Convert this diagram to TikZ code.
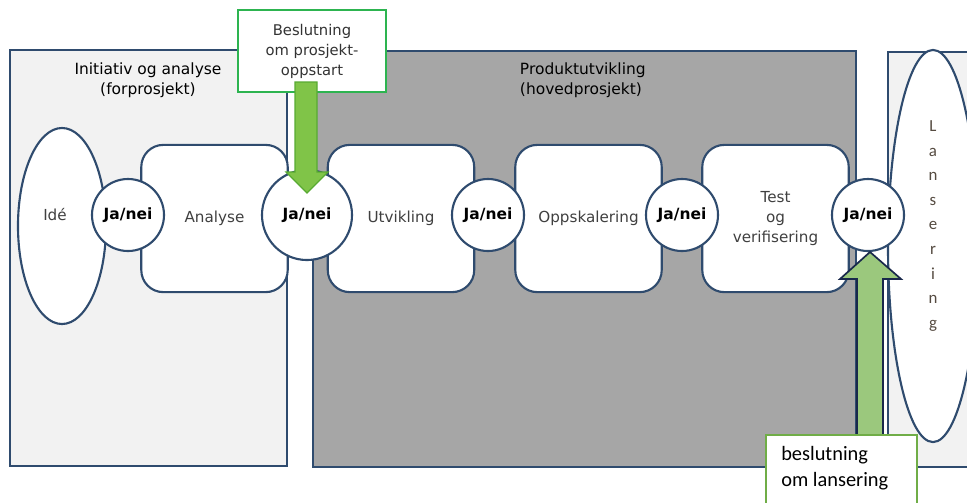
\documentclass[tikz,border=0pt]{standalone}
\usepackage{fontspec}
\setmainfont{DejaVu Sans}
\newfontfamily\boxfont{Carlito}
\usetikzlibrary{shapes.geometric}

\definecolor{rand}{RGB}{47,75,110}
\definecolor{lysgraa}{RGB}{242,242,242}
\definecolor{morkgraa}{RGB}{166,166,166}
\definecolor{knallgronn}{RGB}{45,180,80}
\definecolor{pilgronn}{RGB}{128,196,72}
\definecolor{pilkant}{RGB}{88,170,50}
\definecolor{blekgronn}{RGB}{155,200,125}
\definecolor{pilmork}{RGB}{25,40,75}
\definecolor{boksgronn}{RGB}{112,173,71}
\definecolor{bokstav}{RGB}{85,75,65}

\begin{document}
\begin{tikzpicture}[x=0.025cm,y=-0.025cm,
  fase/.style={draw=rand,line width=1.5pt,rounded corners=0.55cm,fill=white,
    minimum width=3.66cm,minimum height=3.68cm,align=center,
    text=black!75,font=\fontsize{10.8}{14}\selectfont},
  valg/.style={circle,draw=rand,line width=1.5pt,fill=white,inner sep=0pt,
    minimum size=1.8cm,font=\bfseries\fontsize{11}{13}\selectfont},
  felt/.style={draw=rand,line width=1.5pt}]
\useasboundingbox (0,0) rectangle (967,502);
\clip (0,0) rectangle (967,502);

\draw[felt,fill=lysgraa] (10,50) rectangle (287,466);
\draw[felt,fill=morkgraa] (313,51) rectangle (856,467);
\draw[felt,fill=lysgraa] (888,52) rectangle (990,467);
\node[felt,ellipse,fill=white,minimum width=2.25cm,minimum height=9.8cm] (lansering) at (933,246) {};
\node[align=center,font=\boxfont\fontsize{12}{17.5}\selectfont,text=bokstav] (lanseringtekst) at (933,226)
  {L\\a\\n\\s\\e\\r\\i\\n\\g};

\node[align=center,font=\fontsize{11}{14.2}\selectfont] (forprosjekt) at (148,80)
  {Initiativ og analyse\\(forprosjekt)};
\node[align=left,anchor=west,font=\fontsize{11}{14.2}\selectfont] (hovedprosjekt) at (515,80)
  {Produktutvikling\\(hovedprosjekt)};

\node[felt,ellipse,fill=white,minimum width=2.2cm,minimum height=4.9cm] (idefelt) at (62,226) {};
\node[text=black!75,font=\fontsize{10.8}{14}\selectfont] (ide) at (55,215) {Idé};

\node[fase] (analyse) at (214.5,218.5) {Analyse};
\node[fase] (utvikling) at (401,218.5) {Utvikling};
\node[fase] (oppskalering) at (588.5,218.5) {Oppskalering};
\node[fase] (test) at (775.5,218.5) {Test\\og\\verifisering};

\node[valg] (jn1) at (128,215) {Ja/nei};
\node[valg,minimum size=2.25cm] (jn2) at (307,215) {Ja/nei};
\node[valg] (jn3) at (488,215) {Ja/nei};
\node[valg] (jn4) at (682,215) {Ja/nei};
\node[valg] (jn5) at (868,215) {Ja/nei};

\node[draw=knallgronn,line width=1.5pt,fill=white,minimum width=3.7cm,minimum height=2.03cm,
  align=center,text=black!80,font=\fontsize{10.5}{14.2}\selectfont] (oppstart) at (312,51)
  {Beslutning\\om prosjekt-\\oppstart};
\draw[draw=pilkant,line width=0.8pt,fill=pilgronn]
  (295,82) -- (317,82) -- (317,172) -- (328,172) -- (307,193) -- (286,172) -- (295,172) -- cycle;

\draw[draw=pilmork,line width=1.2pt,fill=blekgronn]
  (857,440) -- (857,279) -- (840,279) -- (870,252) -- (901,279) -- (883,279) -- (883,440) -- cycle;
\draw[draw=boksgronn,line width=1.5pt,fill=white] (766,435) rectangle (917,520);
\node[anchor=north west,align=left,inner sep=0pt,font=\boxfont\fontsize{14.5}{18.5}\selectfont]
  (lanseringsvalg) at (781,446) {beslutning\\om lansering};
\end{tikzpicture}
\end{document}
